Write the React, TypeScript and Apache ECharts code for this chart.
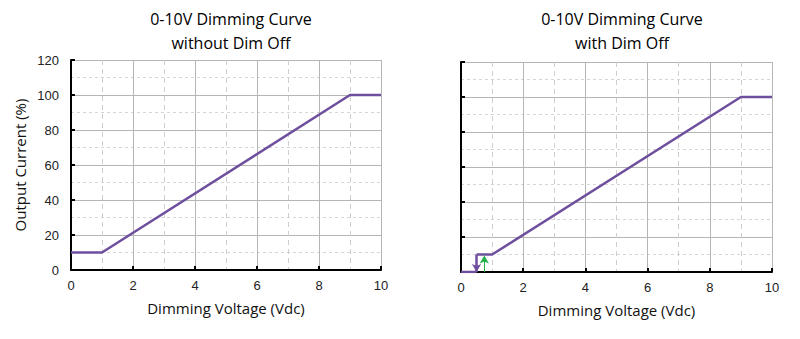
import React, { useEffect, useRef } from "react";
import * as echarts from "echarts";

const titleLeft = "0-10V Dimming Curve\nwithout Dim Off";
const titleRight = "0-10V Dimming Curve\nwith Dim Off";
const xName = "Dimming Voltage (Vdc)";
const yName = "Output Current (%)";

const curveNoDimOff: [number, number][] = [
  [0, 10], [1, 10], [9, 100], [10, 100],
];
const curveDimOffFlat: [number, number][] = [
  [0, 0], [0.5, 0],
];
const curveDimOffMain: [number, number][] = [
  [0.5, 10], [1, 10], [9, 100], [10, 100],
];
const dimOffArrow: [number, number][] = [[0.5, 10], [0.5, 0]];
const dimOnArrow: [number, number][] = [[0.75, 0], [0.75, 9.5]];

const purple = "#6e4f9e";
const green = "#22b04b";

export default function App() {
  const ref = useRef<HTMLDivElement>(null);
  useEffect(() => {
    if (!ref.current) return;
    const chart = echarts.init(ref.current, undefined, { renderer: "svg" });
    const xAxisBase = (gridIndex: number) => ({
      type: "value" as const,
      gridIndex,
      min: 0,
      max: 10,
      interval: 2,
      name: xName,
      nameLocation: "middle" as const,
      nameGap: 30,
      nameTextStyle: { fontFamily: "Open Sans", fontSize: 15, color: "#111" },
      axisLine: { show: true, lineStyle: { color: "#000", width: 2 } },
      axisTick: { show: true, inside: true, length: 4, lineStyle: { color: "#000", width: 2 } },
      axisLabel: { fontFamily: "Liberation Sans", fontSize: 13, color: "#222", margin: 9 },
      splitLine: { show: true, lineStyle: { color: "#b5b5b5", width: 1 } },
      minorTick: { show: false, splitNumber: 2 },
      minorSplitLine: { show: true, lineStyle: { color: "#cfcfcf", type: [5, 4], width: 1 } },
    });
    const yAxisBase = (gridIndex: number, showLabels: boolean) => ({
      type: "value" as const,
      gridIndex,
      min: 0,
      max: 120,
      interval: 20,
      name: showLabels ? yName : "",
      nameLocation: "middle" as const,
      nameGap: 44,
      nameTextStyle: { fontFamily: "Open Sans", fontSize: 15, color: "#111" },
      axisLine: { show: true, lineStyle: { color: "#000", width: 2 } },
      axisTick: { show: true, inside: true, length: 4, lineStyle: { color: "#000", width: 2 } },
      axisLabel: { show: showLabels, fontFamily: "Liberation Sans", fontSize: 13, color: "#222", margin: 12 },
      splitLine: { show: true, lineStyle: { color: "#b5b5b5", width: 1 } },
      minorTick: { show: false, splitNumber: 2 },
      minorSplitLine: { show: true, lineStyle: { color: "#d6d6d6", type: [3, 3], width: 1 } },
    });
    chart.setOption({
      animation: false,
      backgroundColor: "#fff",
      title: [
        {
          text: titleLeft,
          left: 218,
          top: -6,
          textAlign: "center",
          textStyle: { fontFamily: "Open Sans", fontSize: 16, fontWeight: "normal", color: "#000", lineHeight: 24 },
        },
        {
          text: titleRight,
          left: 609,
          top: -6,
          textAlign: "center",
          textStyle: { fontFamily: "Open Sans", fontSize: 16, fontWeight: "normal", color: "#000", lineHeight: 24 },
        },
      ],
      grid: [
        { left: 63, right: 427, top: 52, bottom: 77 },
        { left: 453, right: 36, top: 54, bottom: 75 },
      ],
      xAxis: [xAxisBase(0), xAxisBase(1)],
      yAxis: [yAxisBase(0, true), yAxisBase(1, false)],
      series: [
        {
          type: "line",
          xAxisIndex: 0,
          yAxisIndex: 0,
          data: curveNoDimOff,
          showSymbol: false,
          lineStyle: { color: purple, width: 2.5 },
        },
        {
          type: "line",
          xAxisIndex: 1,
          yAxisIndex: 1,
          data: curveDimOffFlat,
          showSymbol: false,
          lineStyle: { color: purple, width: 2.5 },
        },
        {
          type: "line",
          xAxisIndex: 1,
          yAxisIndex: 1,
          data: curveDimOffMain,
          showSymbol: false,
          lineStyle: { color: purple, width: 2.5 },
          markLine: {
            silent: true,
            symbol: ["none", "arrow"],
            symbolSize: [7, 8],
            label: { show: false },
            data: [
              [
                { coord: dimOffArrow[0], lineStyle: { color: purple, width: 2.5, type: "solid" }, itemStyle: { color: purple } },
                { coord: dimOffArrow[1] },
              ],
              [
                { coord: dimOnArrow[0], lineStyle: { color: green, width: 1, type: "solid" }, itemStyle: { color: green } },
                { coord: dimOnArrow[1] },
              ],
            ],
          },
        },
      ],
    });
    return () => chart.dispose();
  }, []);
  return <div ref={ref} style={{ width: 800, height: 339 }} />;
}
